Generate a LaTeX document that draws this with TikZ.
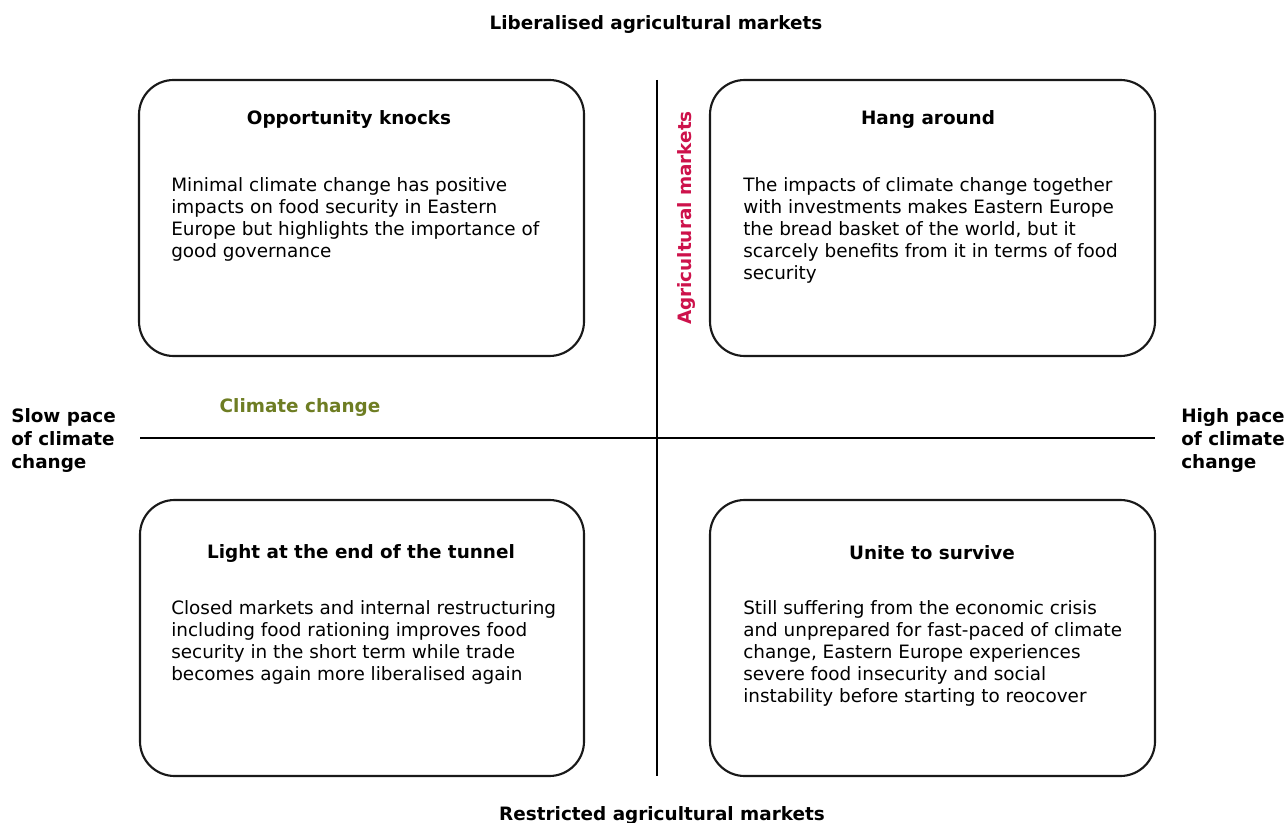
\documentclass[tikz,border=0pt]{standalone}
\usepackage{fontspec}
\setmainfont{DejaVu Sans}
\definecolor{agred}{RGB}{205,18,75}
\definecolor{ccgreen}{RGB}{110,125,35}
\begin{document}
\begin{tikzpicture}[x=0.75pt,y=-0.75pt,
  scen/.style={draw=black!90,line width=1.6pt,rounded corners=26pt},
  axis/.style={draw=black,line width=1pt},
  ttl/.style={font=\fontsize{13.8}{16.5}\selectfont\bfseries,inner sep=0pt},
  body/.style={font=\fontsize{13.8}{16.5}\selectfont,align=left,anchor=north west,inner sep=0pt},
  side/.style={font=\fontsize{13.8}{17.25}\selectfont\bfseries,align=left,anchor=west,inner sep=0pt}]
\useasboundingbox (0,0) rectangle (1287,823);
\draw[scen] (139,80) rectangle (584,356);
\draw[scen] (710,80) rectangle (1155,356);
\draw[scen] (140,500) rectangle (584,776);
\draw[scen] (710,500) rectangle (1155,776);
\coordinate (vt) at (657,80);
\coordinate (vb) at (657,776);
\coordinate (hl) at (140,438);
\coordinate (hr) at (1155,438);
\draw[axis] (vt) -- (vb);
\draw[axis] (hl) -- (hr);
\node[ttl] (top) at (656,25) {Liberalised agricultural markets};
\node[ttl] (bot) at (662,815) {Restricted agricultural markets};
\node[side] (slow) at (11,440) {Slow pace\\of climate\\change};
\node[side] (high) at (1181,440) {High pace\\of climate\\change};
\node[ttl,text=ccgreen] (cc) at (300,407) {Climate change};
\node[ttl,text=agred,rotate=90] (am) at (686,218) {Agricultural markets};
\node[ttl] (t1) at (349,119) {Opportunity knocks};
\node[ttl] (t2) at (928,119) {Hang around};
\node[ttl] (t3) at (361,553) {Light at the end of the tunnel};
\node[ttl] (t4) at (932,553) {Unite to survive};
\node[body] (b1) at (171,177) {Minimal climate change has positive\\impacts on food security in Eastern\\Europe but highlights the importance of\\good governance};
\node[body] (b2) at (743,177) {The impacts of climate change together\\with investments makes Eastern Europe\\the bread basket of the world, but it\\scarcely benefits from it in terms of food\\security};
\node[body] (b3) at (171,600) {Closed markets and internal restructuring\\including food rationing improves food\\security in the short term while trade\\becomes again more liberalised again};
\node[body] (b4) at (743,600) {Still suffering from the economic crisis\\and unprepared for fast-paced of climate\\change, Eastern Europe experiences\\severe food insecurity and social\\instability before starting to reocover};
\end{tikzpicture}
\end{document}
